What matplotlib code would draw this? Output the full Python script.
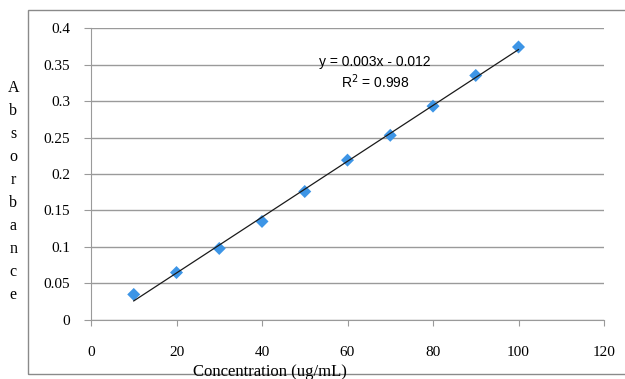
import matplotlib
matplotlib.use('Agg')
import matplotlib.pyplot as plt
import matplotlib.patches as patches
import numpy as np

concentration = [10, 20, 30, 40, 50, 60, 70, 80, 90, 100]
absorbance = [0.035, 0.065, 0.098, 0.135, 0.176, 0.219, 0.253, 0.293, 0.335, 0.374]
x_ticks = [0, 20, 40, 60, 80, 100, 120]
y_ticks = [0, 0.05, 0.1, 0.15, 0.2, 0.25, 0.3, 0.35, 0.4]
y_tick_labels = ['0', '0.05', '0.1', '0.15', '0.2', '0.25', '0.3', '0.35', '0.4']
equation_text = 'y = 0.003x - 0.012\nR$^2$ = 0.998'

grid_col = '#9a9a9a'
serif = 'Liberation Serif'

fig = plt.figure(figsize=(6.25, 3.79), dpi=100)
ax = fig.add_axes([0.1456, 0.1557, 0.8208, 0.7704])

# outer chart border
border = patches.Rectangle((0.0448, 0.0132), 1.0, 0.9604, transform=fig.transFigure,
                           fill=False, edgecolor='#8a8a8a', linewidth=1.0, clip_on=False)
fig.patches.append(border)

# trendline from least squares fit
slope, intercept = np.polyfit(concentration, absorbance, 1)
xs = np.array([concentration[0], concentration[-1]])
ax.plot(xs, slope * xs + intercept, color='#1a1a1a', linewidth=0.9, zorder=3)
ax.scatter(concentration, absorbance, marker='D', s=44, color='#3d95e6',
           edgecolors='none', zorder=2)

ax.set_xlim(0, 120)
ax.set_ylim(0, 0.4)
ax.set_xticks(x_ticks)
ax.set_yticks(y_ticks)
ax.set_yticklabels(y_tick_labels)
ax.yaxis.grid(True, color=grid_col, linewidth=1.0)
ax.set_axisbelow(True)

for side in ['top', 'right']:
    ax.spines[side].set_visible(False)
ax.spines['left'].set_color(grid_col)
ax.spines['bottom'].set_color(grid_col)

ax.tick_params(axis='x', length=4, color=grid_col, pad=15, labelsize=11)
ax.tick_params(axis='y', length=5, color=grid_col, pad=10, labelsize=11)
for lab in ax.get_xticklabels() + ax.get_yticklabels():
    lab.set_fontfamily(serif)

ax.text(66.5, 0.338, equation_text, fontsize=10, ha='center', va='center',
        family='Liberation Sans', linespacing=1.2)

fig.text(0.432, 0.018, 'Concentration (ug/mL)', fontsize=12, family=serif,
         ha='center', va='center')
fig.text(0.021, 0.495, '\n'.join('Absorbance'), fontsize=11.5, family=serif,
         ha='center', va='center', linespacing=1.58)

fig.savefig('out.png', dpi=100)
